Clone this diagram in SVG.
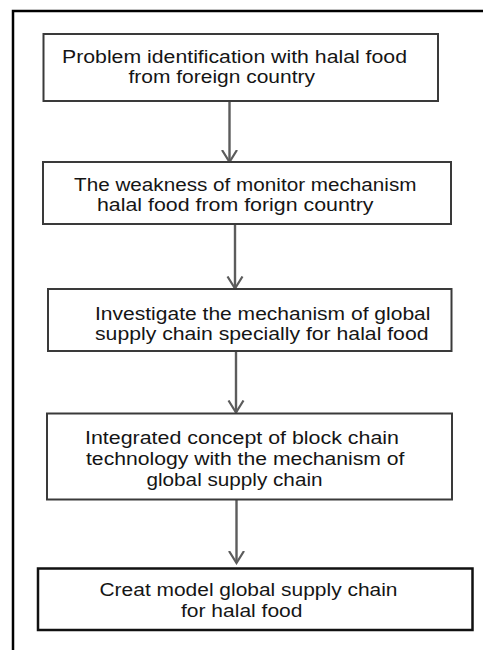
<svg xmlns="http://www.w3.org/2000/svg" width="483" height="650" viewBox="0 0 483 650">
<style>
.box{fill:#fff;stroke:#3a3a3a;stroke-width:2}
.box5{fill:#fff;stroke:#111;stroke-width:2.5}
.frame{fill:none;stroke:#000;stroke-width:2.5}
.conn{fill:none;stroke:#5c5c5c;stroke-width:2.4}
text{font-family:"Liberation Sans",Arial,sans-serif;font-size:17.5px;fill:#151515}
</style>
<defs>
<marker id="vh" markerUnits="userSpaceOnUse" viewBox="0 0 14 18" refX="12.5" refY="9" markerWidth="14" markerHeight="18" orient="auto">
<path d="M0.5,1.5 L12.5,9 L0.5,16.5" fill="none" stroke="#5c5c5c" stroke-width="2.2"/>
</marker>
</defs>
<rect width="483" height="650" fill="#fff"/>
<path class="frame" d="M13,650 V11 H483"/>
<g id="connectors">
<line class="conn" x1="229.5" y1="101" x2="229.5" y2="162" marker-end="url(#vh)"/>
<line class="conn" x1="235" y1="224" x2="235" y2="288.5" marker-end="url(#vh)"/>
<line class="conn" x1="236" y1="351" x2="236" y2="412.5" marker-end="url(#vh)"/>
<line class="conn" x1="236.5" y1="499.5" x2="236.5" y2="563" marker-end="url(#vh)"/>
</g>
<g id="n1">
<rect class="box" x="43.5" y="34" width="394.5" height="67"/>
<text x="62" y="63" textLength="345" lengthAdjust="spacingAndGlyphs">Problem identification with halal food</text>
<text x="128.5" y="82.5" textLength="186.5" lengthAdjust="spacingAndGlyphs">from foreign country</text>
</g>
<g id="n2">
<rect class="box" x="43" y="162" width="408" height="62"/>
<text x="74" y="190.5" textLength="342.5" lengthAdjust="spacingAndGlyphs">The weakness of monitor mechanism</text>
<text x="97" y="211" textLength="276.5" lengthAdjust="spacingAndGlyphs">halal food from forign country</text>
</g>
<g id="n3">
<rect class="box" x="48" y="289" width="403.5" height="62"/>
<text x="95" y="319.5" textLength="335.5" lengthAdjust="spacingAndGlyphs">Investigate the mechanism of global</text>
<text x="95" y="339.5" textLength="333.5" lengthAdjust="spacingAndGlyphs">supply chain specially for halal food</text>
</g>
<g id="n4">
<rect class="box" x="47" y="413.5" width="405" height="86"/>
<text x="85" y="443.5" textLength="314" lengthAdjust="spacingAndGlyphs">Integrated concept of block chain</text>
<text x="86" y="465" textLength="318.5" lengthAdjust="spacingAndGlyphs">technology with the mechanism of</text>
<text x="146.5" y="486" textLength="176" lengthAdjust="spacingAndGlyphs">global supply chain</text>
</g>
<g id="n5">
<rect class="box5" x="38" y="568.5" width="434.5" height="61.5"/>
<text x="99.5" y="596" textLength="298" lengthAdjust="spacingAndGlyphs">Creat model global supply chain</text>
<text x="181" y="616.5" textLength="121.5" lengthAdjust="spacingAndGlyphs">for halal food</text>
</g>
</svg>
